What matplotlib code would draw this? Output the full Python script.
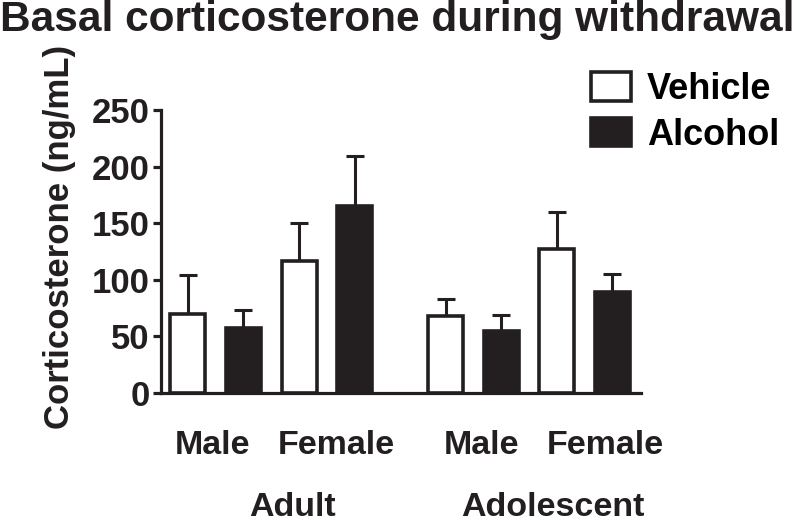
import numpy as np
import matplotlib
matplotlib.use('Agg')
import matplotlib.pyplot as plt
from matplotlib.transforms import blended_transform_factory

plt.rcParams['font.family'] = ['Liberation Sans', 'DejaVu Sans']
plt.rcParams['font.weight'] = 'bold'

# data
groups = ['Male', 'Female', 'Male', 'Female']
ages = ['Adult', 'Adolescent']
vehicle = [70, 117, 68, 127]
vehicle_err = [34, 33, 15, 33]
alcohol = [57, 165, 55, 89]
alcohol_err = [16, 44, 14, 16]
yticks = [0, 50, 100, 150, 200, 250]

ink = '#231f20'
pos_v = np.array([0, 2, 4.64, 6.64])
pos_a = pos_v + 1
w = 0.63

fig = plt.figure(figsize=(8, 5.23), dpi=100)
ax = fig.add_axes([161 / 800, 1 - 393 / 523, 480 / 800, 283 / 523])

bv = ax.bar(pos_v, vehicle, w, color='white', edgecolor=ink, linewidth=2.6, zorder=3, label='Vehicle')
ba = ax.bar(pos_a, alcohol, w, color=ink, edgecolor=ink, linewidth=2.6, zorder=3, label='Alcohol')
ax.errorbar(pos_v, vehicle, yerr=[np.zeros(4), vehicle_err], fmt='none', ecolor=ink,
            elinewidth=2.2, capsize=6.5, capthick=2.2, zorder=2)
ax.errorbar(pos_a, alcohol, yerr=[np.zeros(4), alcohol_err], fmt='none', ecolor=ink,
            elinewidth=2.2, capsize=6.5, capthick=2.2, zorder=2)

ax.set_xlim(-0.486, 8.16)
ax.set_ylim(0, 250)
ax.set_yticks(yticks)
ax.set_xticks([])
for s in ['top', 'right']:
    ax.spines[s].set_visible(False)
for s in ['left', 'bottom']:
    ax.spines[s].set_linewidth(2.3)
    ax.spines[s].set_color(ink)
ax.tick_params(axis='y', direction='out', length=6, width=2.3, color=ink,
               labelsize=25, pad=2, labelcolor=ink)

fig.text(60 / 800, 1 - 237 / 523, 'Corticosterone (ng/mL)', rotation=90, ha='center', va='center',
         fontsize=25, fontweight='bold', color=ink)

tr = blended_transform_factory(ax.transData, fig.transFigure)
label_x = [0.45, 2.67, 5.29, 7.52]
for x, g in zip(label_x, groups):
    ax.text(x, 1 - 445 / 523, g, transform=tr, ha='center', va='center',
            fontsize=24.5, fontweight='bold', color=ink)
for x, a in zip([1.88, 6.58], ages):
    ax.text(x, 1 - 508 / 523, a, transform=tr, ha='center', va='center',
            fontsize=24.5, fontweight='bold', color=ink)

fig.text(0.0, 1 - 31 / 523, 'Basal corticosterone during withdrawal', ha='left', va='baseline',
         fontsize=30.5, fontweight='bold', color=ink)

fig.legend(handles=[bv, ba], loc='upper left', bbox_to_anchor=(591 / 800, 1 - 72 / 523),
           frameon=False, fontsize=26, handlelength=1.1, handleheight=0.83,
           handletextpad=0.45, labelspacing=0.3, borderpad=0, borderaxespad=0)

fig.savefig('out.png', dpi=100)
